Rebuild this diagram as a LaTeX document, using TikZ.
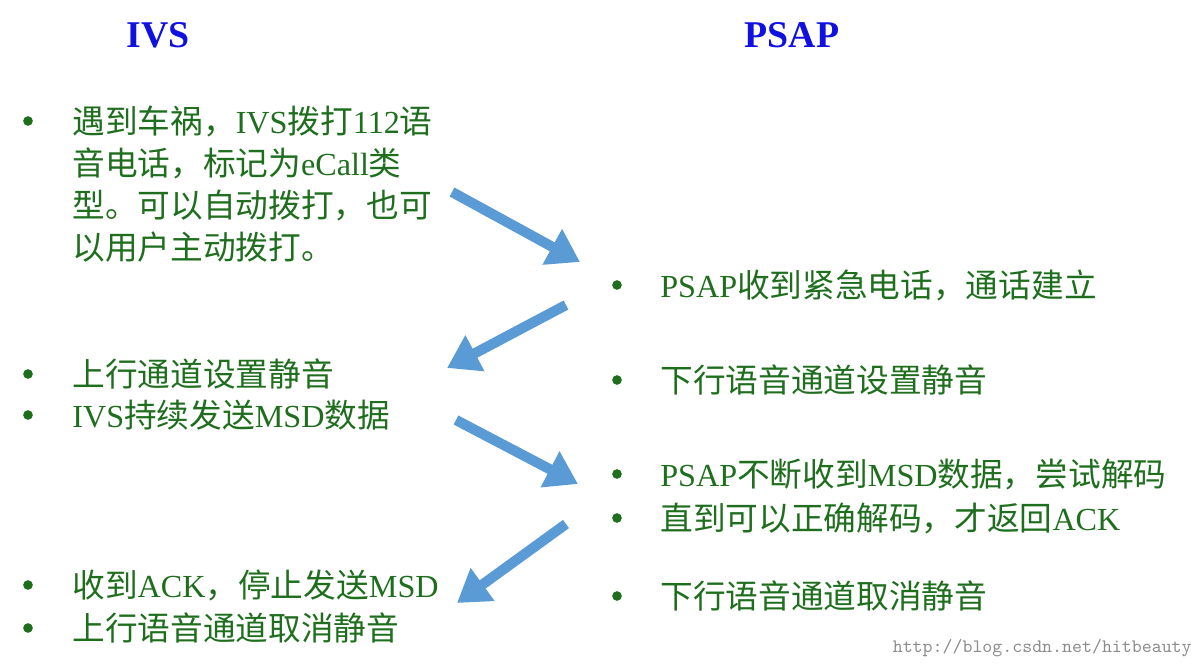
\documentclass[tikz,border=0pt]{standalone}
\usepackage{fontspec}
\setmainfont{Liberation Serif}
\newfontfamily\cjk{Noto Sans CJK SC}
\usetikzlibrary{arrows.meta}
\definecolor{tg}{HTML}{1E6E1E}
\definecolor{ab}{HTML}{5B9BD5}
\definecolor{tb}{HTML}{1010E0}
\tikzset{
 txt/.style={anchor=west,inner sep=0pt,text=tg,font=\fontsize{18.3}{22}\selectfont},
 bul/.style={circle,fill=tg,inner sep=0pt,minimum size=5.5pt},
 ttl/.style={text=tb,font=\fontsize{21.5}{24}\selectfont\bfseries},
 arr/.style={draw=ab,line width=5.8pt,-{Triangle[length=18pt,width=22pt]}}
}
\newcommand\C[1]{{\cjk\fontsize{18.6}{22}\selectfont #1}}
\begin{document}
\begin{tikzpicture}[x=0.02cm,y=-0.02cm]
\useasboundingbox (0,0) rectangle (1202,665);
\node[ttl] (t1) at (158,35) {IVS};
\node[ttl] (t2) at (792,35) {PSAP};
% left
\node[bul] (b1) at (28,121) {};
\node[txt] (l1) at (72,121) {\C{遇到车祸，}IVS\C{拨打}112\C{语}};
\node[txt] (l2) at (72,163) {\C{音电话，标记为}eCall\C{类}};
\node[txt] (l3) at (72,205) {\C{型。可以自动拨打，也可}};
\node[txt] (l4) at (72,247) {\C{以用户主动拨打。}};
\node[bul] (b2) at (28,374) {};
\node[txt] (l5) at (72,374) {\C{上行通道设置静音}};
\node[bul] (b3) at (28,415) {};
\node[txt] (l6) at (72,415) {IVS\C{持续发送}MSD\C{数据}};
\node[bul] (b4) at (28,585) {};
\node[txt] (l7) at (72,585) {\C{收到}ACK\C{，停止发送}MSD};
\node[bul] (b5) at (28,628) {};
\node[txt] (l8) at (72,628) {\C{上行语音通道取消静音}};
% right
\node[bul] (r1b) at (617,285) {};
\node[txt] (r1) at (660,285) {PSAP\C{收到紧急电话，通话建立}};
\node[bul] (r2b) at (617,380) {};
\node[txt] (r2) at (660,380) {\C{下行语音通道设置静音}};
\node[bul] (r3b) at (617,474) {};
\node[txt] (r3) at (660,474) {PSAP\C{不断收到}MSD\C{数据，尝试解码}};
\node[bul] (r4b) at (617,518) {};
\node[txt] (r4) at (660,518) {\C{直到可以正确解码，才返回}ACK};
\node[bul] (r5b) at (617,596) {};
\node[txt] (r5) at (660,596) {\C{下行语音通道取消静音}};
% arrows
\coordinate (a1s) at (452,192); \coordinate (a1e) at (580,262);
\coordinate (a2s) at (566,305); \coordinate (a2e) at (447,368);
\coordinate (a3s) at (456,420); \coordinate (a3e) at (578,484);
\coordinate (a4s) at (566,524); \coordinate (a4e) at (457,603);
\draw[arr] (a1s) -- (a1e);
\draw[arr] (a2s) -- (a2e);
\draw[arr] (a3s) -- (a3e);
\draw[arr] (a4s) -- (a4e);
\node[anchor=east,text=black!45,font=\ttfamily\fontsize{10.8}{12}\selectfont,inner sep=0pt] (wm) at (1192,648) {http://blog.csdn.net/hitbeauty};
\end{tikzpicture}
\end{document}
